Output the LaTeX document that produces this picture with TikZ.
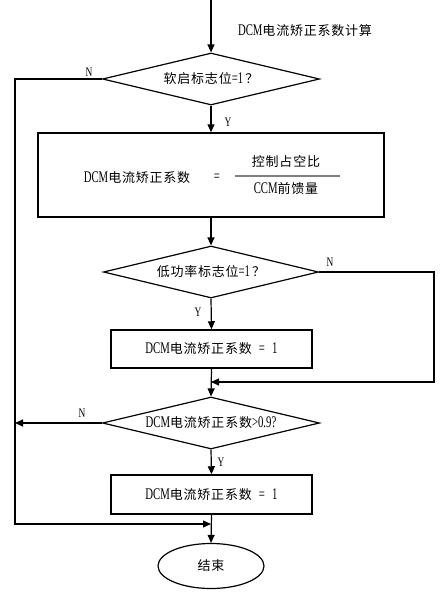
\documentclass[tikz,border=0pt]{standalone}
\usepackage{fontspec}
\setmainfont[LetterSpace=6]{Noto Sans CJK SC}
\newfontfamily\latf[FakeStretch=0.66,Scale=1.25]{Liberation Serif}
\newfontfamily\lblf[FakeStretch=0.72]{Liberation Serif}
\usetikzlibrary{shapes.geometric,arrows.meta}
\newcommand\fsz{\fontsize{13}{15}\selectfont}
\newcommand\eqone{\hspace{0.55em}{\latf =}\hspace{0.55em}{\latf 1}}
\begin{document}
\begin{tikzpicture}[x=1pt,y=-1pt,line width=1.2pt,
  arr/.style={-{Triangle[length=8pt,width=7pt]}},
  dia/.style={draw,shape=diamond,inner sep=0pt,minimum width=217pt,minimum height=52pt,font=\fsz},
  box/.style={draw,rectangle,inner sep=0pt,line width=1.5pt,font=\fsz},
  lbl/.style={inner sep=0pt,font=\lblf\fontsize{13}{13}\selectfont},
  txt/.style={inner sep=0pt,font=\fsz}]
\useasboundingbox (0,0) rectangle (445,597);
% start
\coordinate (start) at (211,0);
\node[txt] (title) at (305,31) {{\latf DCM}电流矫正系数计算};
% nodes
\node[dia] (d1) at (211,79) {\makebox[0pt]{软启标志位{\latf =1}\,？}};
\node[box,minimum width=346pt,minimum height=84pt] (b1) at (211,175) {};
\node[txt] (b1l) at (137,178) {{\latf DCM}电流矫正系数};
\node[txt] (b1e) at (217,178) {{\latf =}};
\coordinate (fl) at (235,176);
\coordinate (fr) at (340,176);
\node[txt] (num) at (286,162) {控制占空比};
\node[txt] (den) at (286,189) {{\latf CCM}前馈量};
\node[dia,minimum width=215pt] (d2) at (211,272) {\makebox[0pt]{低功率标志位{\latf =1}\,？}};
\node[box,minimum width=201pt,minimum height=38pt] (b2) at (211.5,349) {{\latf DCM}电流矫正系数\eqone};
\node[dia] (d3) at (211,423) {\makebox[0pt]{{\latf DCM}电流矫正系数{\latf >0.9?}}};
\node[box,minimum width=201pt,minimum height=39pt] (b3) at (211.5,494.5) {{\latf DCM}电流矫正系数\eqone};
\node[draw,ellipse,inner sep=0pt,minimum width=106pt,minimum height=45pt,font=\fsz] (end) at (211,566) {结束};
% helper coordinates
\coordinate (l1) at (15,79);
\coordinate (l2) at (15,524);
\coordinate (l3) at (15,423);
\coordinate (j3) at (211,524);
\coordinate (r1) at (434,272);
\coordinate (r2) at (434,382);
\coordinate (j2) at (211,382);
% connectors
\draw[arr] (start) -- (d1.north);
\draw[arr] (d1.south) -- (b1.north);
\draw[arr] (b1.south) -- (d2.north);
\draw[arr] (d2.south) -- (b2.north);
\draw[arr] (b2.south) -- (d3.north);
\draw[arr] (d3.south) -- (b3.north);
\draw[arr] (b3.south) -- (end.north);
\draw[arr] (d1.west) -- (l1) -- (l2) -- (j3);
\draw[arr] (d2.east) -- (r1) -- (r2) -- (j2);
\draw[arr] (d3.west) -- (l3);
\draw[gray,line width=1.2pt] (fl) -- (fr);
% labels
\node[lbl] (n1) at (89,72) {N};
\node[lbl] (y1) at (228,122) {Y};
\node[lbl] (n2) at (330,262) {N};
\node[lbl] (y2) at (198,312) {Y};
\node[lbl] (n3) at (82,413) {N};
\node[lbl] (y3) at (221,462) {Y};
\end{tikzpicture}
\end{document}
